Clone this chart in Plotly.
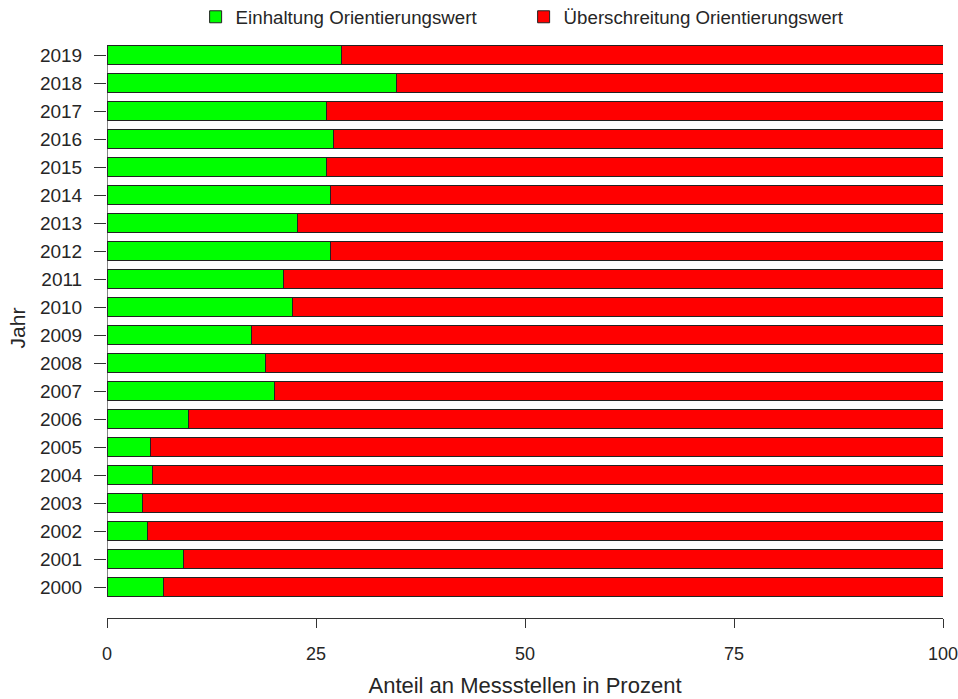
import plotly.graph_objects as go

years = [str(y) for y in range(2000, 2020)]
einhaltung = [6.8, 9.2, 4.8, 4.3, 5.4, 5.2, 9.7, 20.0, 18.9, 17.3,
              22.2, 21.1, 26.7, 22.8, 26.7, 26.2, 27.1, 26.2, 34.65, 28.0]
ueberschreitung = [round(100 - v, 2) for v in einhaltung]
x_ticks = [0, 25, 50, 75, 100]

FONT = "Liberation Sans, Arial, sans-serif"
TXT = "#262626"
BARGAP = 0.3

fig = go.Figure()
fig.add_trace(go.Bar(
    y=years, x=einhaltung, orientation="h", name="Einhaltung Orientierungswert",
    marker=dict(color="#00FF00", line=dict(color="#222222", width=1)),
))
fig.add_trace(go.Bar(
    y=years, x=ueberschreitung, orientation="h", name="Überschreitung Orientierungswert",
    marker=dict(color="#FF0000", line=dict(color="#222222", width=1)),
))

half = (1 - BARGAP) / 2
fig.add_shape(type="line", xref="x", yref="y", x0=0, x1=0,
              y0=-half, y1=len(years) - 1 + half,
              line=dict(color="#333333", width=1.2))

fig.update_layout(
    barmode="stack",
    bargap=BARGAP,
    width=958, height=699,
    margin=dict(l=107, r=15, t=38, b=81, autoexpand=False),
    plot_bgcolor="white", paper_bgcolor="white",
    font=dict(family=FONT, size=17, color=TXT),
    legend=dict(orientation="h", x=0.106, xanchor="left", y=1.036, yanchor="middle",
                font=dict(size=18.7, color=TXT), entrywidth=283, entrywidthmode="pixels",
                traceorder="normal", bgcolor="rgba(0,0,0,0)"),
    xaxis=dict(range=[0, 100], tickvals=x_ticks, ticktext=[str(t) for t in x_ticks],
               showgrid=False, zeroline=False, showline=True, linecolor="#333333", linewidth=1.2,
               ticks="outside", ticklen=9, tickcolor="#333333", tickwidth=1.2,
               tickfont=dict(size=18, color=TXT), ticklabelstandoff=10,
               ticklabeloverflow="allow",
               title=dict(text="Anteil an Messstellen in Prozent", font=dict(size=22, color=TXT), standoff=14),
               automargin=False),
    yaxis=dict(type="category", categoryorder="array", categoryarray=years,
               range=[-1.107, 19.607],
               showgrid=False, zeroline=False, showline=False,
               ticks="outside", ticklen=12, tickcolor="#333333", tickwidth=1.2,
               tickfont=dict(size=19, color=TXT), ticklabelstandoff=8,
               ticklabeloverflow="allow",
               title=dict(text="Jahr", font=dict(size=21, color=TXT), standoff=8),
               automargin=False),
)

fig.write_html("out.html", config={"displayModeBar": False},
               post_script="document.body.style.margin='0';document.body.style.overflow='hidden';")
